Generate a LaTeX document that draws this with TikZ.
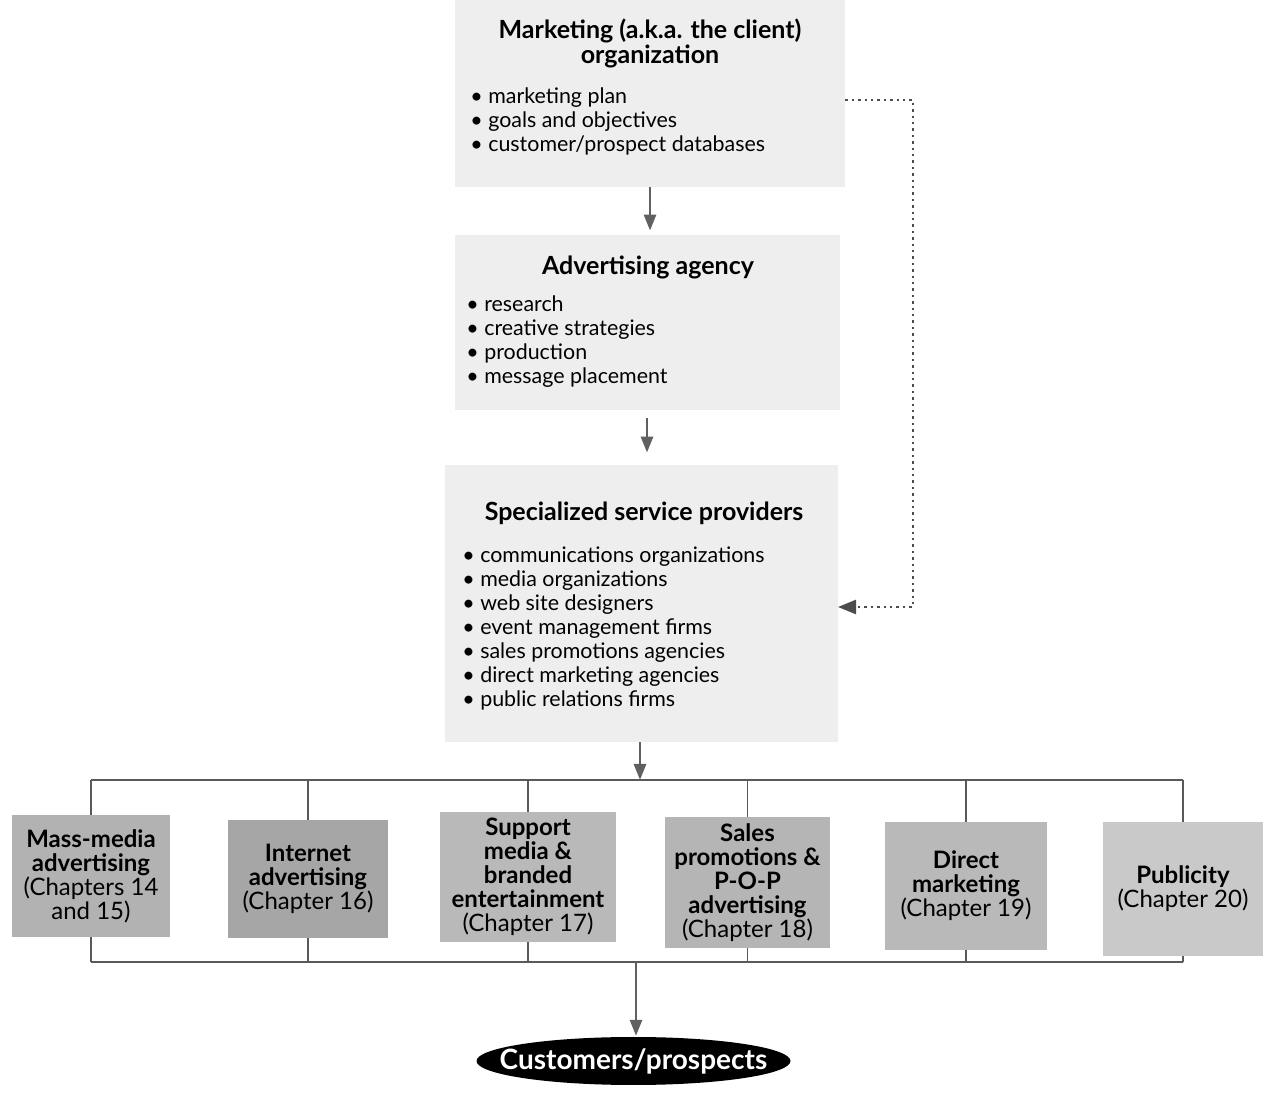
\documentclass[tikz,border=0pt]{standalone}
\usepackage{fontspec}
\setmainfont{Lato}
\usetikzlibrary{arrows.meta}

\begin{document}
\begin{tikzpicture}[x = 0.5pt, y = -0.5pt,
    panel/.style = {fill = gray!13, inner sep = 0pt},
    headline/.style = {font = \bfseries\fontsize{12.5}{12.5}\selectfont, align = center, inner sep = 0pt},
    bullets/.style = {font = \fontsize{10.7}{12}\selectfont, align = left, inner sep = 0pt, anchor = north west},
    tab/.style = {fill = #1, inner sep = 0pt, align = center, font = \fontsize{12}{12}\selectfont},
    flow/.style = {draw = gray!75!black, line width = 1.4pt, -{Triangle[length = 8pt, width = 6pt]}},
    bar/.style = {draw = gray!70!black, line width = 0.9pt},
    feedback/.style = {draw = gray!60!black, line width = 1.2pt, dotted, -{Triangle[length = 9pt, width = 7pt]}}]
    \useasboundingbox (0, 0) rectangle (1266, 1101);

    % three stacked panels
    \node [panel, minimum width = 195pt, minimum height = 93.5pt] (mkt) at (650, 93.5) {};
    \node [headline] (mkttitle) at (650, 43) {Marketing (a.k.a. the client)\\organization};
    \node [bullets] (mktlist) at (470, 87) {\textbullet\ marketing plan\\\textbullet\ goals and objectives\\\textbullet\ customer/prospect databases};

    \node [panel, minimum width = 192.5pt, minimum height = 87.5pt] (agency) at (647, 322.5) {};
    \node [headline] (agencytitle) at (648, 267) {Advertising agency};
    \node [bullets] (agencylist) at (466, 295) {\textbullet\ research\\\textbullet\ creative strategies\\\textbullet\ production\\\textbullet\ message placement};

    \node [panel, minimum width = 196.5pt, minimum height = 138.5pt] (spec) at (641.5, 603.5) {};
    \node [headline] (spectitle) at (644, 513) {Specialized service providers};
    \node [bullets] (speclist) at (462, 546) {\textbullet\ communications organizations\\\textbullet\ media organizations\\\textbullet\ web site designers\\\textbullet\ event management firms\\\textbullet\ sales promotions agencies\\\textbullet\ direct marketing agencies\\\textbullet\ public relations firms};

    % six channels
    \node [tab = gray!60, minimum width = 79pt, minimum height = 61pt] (mass) at (91, 876) {\textbf{Mass-media}\\\textbf{advertising}\\(Chapters 14\\and 15)};
    \node [tab = gray!70, minimum width = 80pt, minimum height = 59pt] (net) at (308, 879) {\textbf{Internet}\\\textbf{advertising}\\(Chapter 16)};
    \node [tab = gray!55, minimum width = 88pt, minimum height = 65pt] (supp) at (528, 877) {\textbf{Support}\\\textbf{media \&}\\\textbf{branded}\\\textbf{entertainment}\\(Chapter 17)};
    \node [tab = gray!58, minimum width = 82.5pt, minimum height = 65.5pt] (sales) at (747.5, 882.5) {\textbf{Sales}\\\textbf{promotions \&}\\\textbf{P-O-P}\\\textbf{advertising}\\(Chapter 18)};
    \node [tab = gray!55, minimum width = 81pt, minimum height = 64pt] (direct) at (966, 886) {\textbf{Direct}\\\textbf{marketing}\\(Chapter 19)};
    \node [tab = gray!42, minimum width = 80pt, minimum height = 67pt] (pub) at (1183, 889) {\textbf{Publicity}\\(Chapter 20)};

    \coordinate (custc) at (633.5, 1061); % oval centre
    \fill (custc) ellipse [x radius = 78.5pt, y radius = 12pt];
    \node [text = white, inner sep = 0pt, font = \bfseries\fontsize{14}{14}\selectfont] (cust) at (custc) {Customers/prospects};

    \coordinate (topbar) at (640, 780); % upper rail
    \coordinate (botbar) at (636, 962); % lower rail
    \coordinate (loopcorner) at (913, 100);
    \coordinate (looptip) at (838, 607);

    \draw [flow, shorten >= 2pt] (mkt.south) -- (mkt.south |- agency.north);
    \draw [flow, shorten <= 4pt, shorten >= 6pt] (agency.south) -- (agency.south |- spec.north);
    \draw [flow] (spec.south -| topbar) -- (topbar);
    \draw [flow, shorten >= 6pt] (botbar) -- (botbar |- cust.north);
    \draw [feedback] (mkt.east |- loopcorner) -- (loopcorner) |- (looptip);

    \draw [bar] (mass.north |- topbar) -- (pub.north |- topbar);
    \draw [bar] (mass.south |- botbar) -- (pub.south |- botbar);
    \foreach \n in {mass, net, supp, sales, direct, pub} {
        \draw [bar] (\n.north) -- (\n.north |- topbar);
        \draw [bar] (\n.south) -- (\n.south |- botbar);
    }
\end{tikzpicture}
\end{document}
